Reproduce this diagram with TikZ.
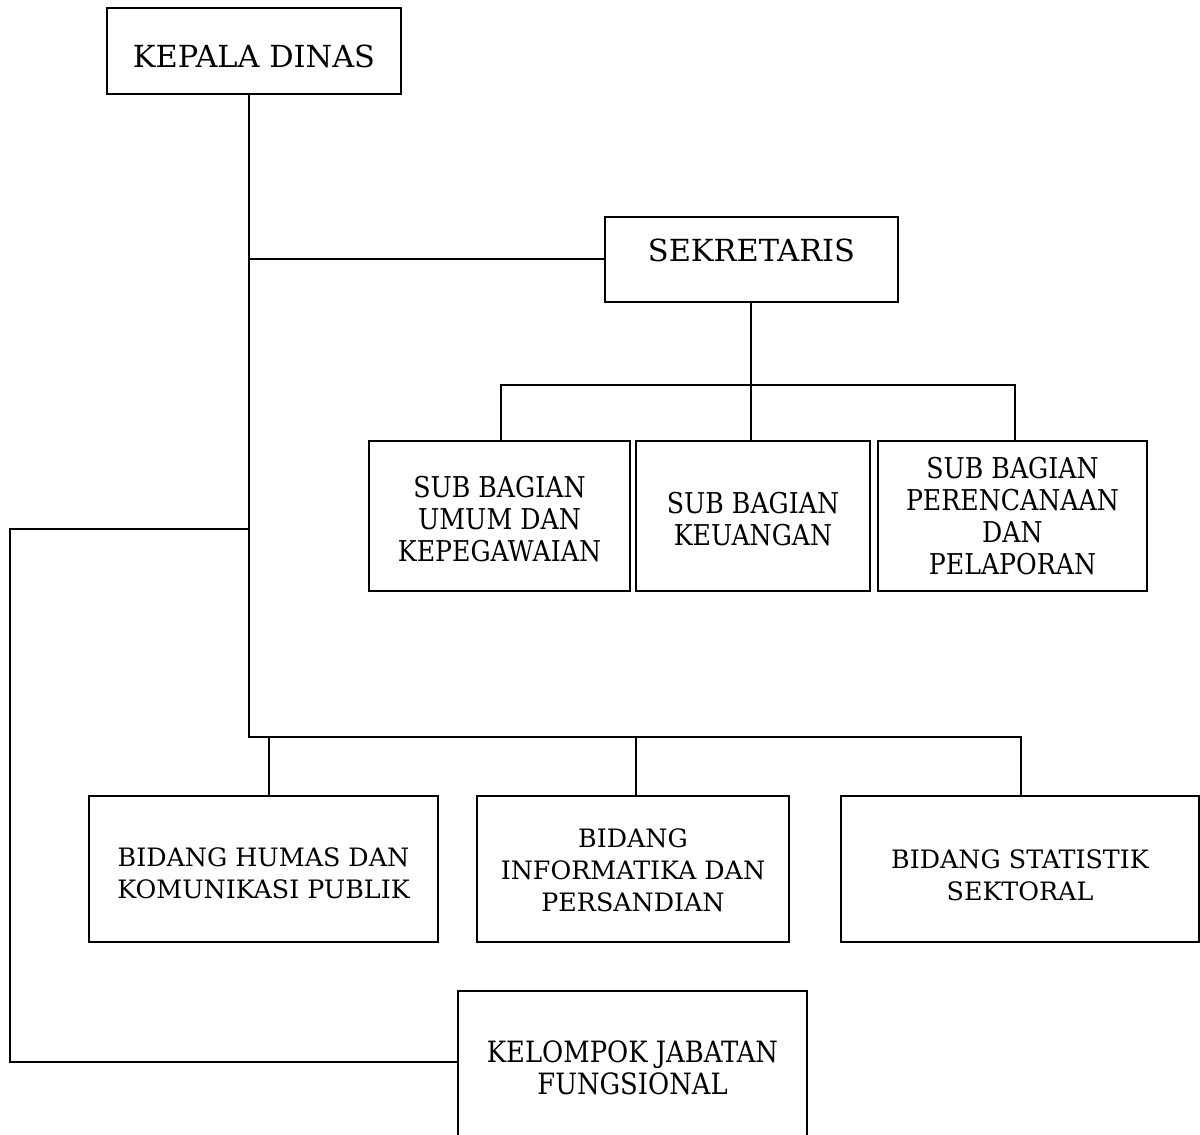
\documentclass[tikz,border=0pt]{standalone}
\usepackage{fontspec}
\setmainfont{DejaVu Serif}
\newfontfamily\condfont[FakeStretch=0.88]{DejaVu Serif}
\begin{document}
\begin{tikzpicture}[x=0.75pt,y=-0.75pt,
  box/.style={draw, line width=1.4pt, outer sep=0pt, inner sep=0pt},
  sz/.style 2 args={minimum width=#1*0.75pt, minimum height=#2*0.75pt},
  tA/.style={align=center, inner sep=0pt, font=\fontsize{22.8}{27}\selectfont},
  tS/.style={align=center, inner sep=0pt, font=\condfont\fontsize{21.5}{24}\selectfont},
  tK/.style={align=center, inner sep=0pt, font=\condfont\fontsize{22}{24}\selectfont},
  tB/.style={align=center, inner sep=0pt, font=\fontsize{19}{24}\selectfont},
  conn/.style={line width=1.4pt}]
\useasboundingbox (0,0) rectangle (1200,1135);
\clip (0,0) rectangle (1200,1135);
\fill[white] (0,0) rectangle (1200,1135);

% boxes
\node[box,sz={294}{86}] (kd) at (254,51) {};
\node[tA] (kdt) at (254,56) {KEPALA DINAS};
\node[box,sz={293}{85}] (sek) at (751.5,259.5) {};
\node[tA] (sekt) at (751.5,250) {SEKRETARIS};

\node[box,sz={261}{150}] (sub1) at (499.5,516) {};
\node[tS] (sub1t) at (499.5,519) {SUB BAGIAN\\UMUM DAN\\KEPEGAWAIAN};
\node[box,sz={234}{150}] (sub2) at (753,516) {};
\node[tS] (sub2t) at (753,519) {SUB BAGIAN\\KEUANGAN};
\node[box,sz={269}{150}] (sub3) at (1012.5,516) {};
\node[tS] (sub3t) at (1012.5,516) {SUB BAGIAN\\PERENCANAAN\\DAN\\PELAPORAN};

\node[box,sz={349}{146}] (bid1) at (263.5,869) {};
\node[tB] (bid1t) at (263.5,873) {BIDANG HUMAS DAN\\KOMUNIKASI PUBLIK};
\node[box,sz={312}{146}] (bid2) at (633,869) {};
\node[tB] (bid2t) at (633,870) {BIDANG\\INFORMATIKA DAN\\PERSANDIAN};
\node[box,sz={358}{146}] (bid3) at (1020,869) {};
\node[tB] (bid3t) at (1020,875.5) {BIDANG STATISTIK\\SEKTORAL};

\node[box,sz={349}{159}] (kel) at (632.5,1070.5) {};
\node[tK] (kelt) at (632.5,1068) {KELOMPOK JABATAN\\FUNGSIONAL};

% coordinates
\coordinate (trunk) at (249,737);
\coordinate (jS) at (249,259);
\coordinate (jL) at (249,529);
\coordinate (lc1) at (10,529);
\coordinate (lc2) at (10,1062);
\coordinate (sbus) at (751,385);
\coordinate (sb1) at (501,385);
\coordinate (sb3) at (1015,385);
\coordinate (bb1) at (269,737);
\coordinate (bb2) at (636,737);
\coordinate (bb3) at (1021,737);

% connectors
\draw[conn] (kd.south -| trunk) -- (trunk) -- (bb3) -- (bb3 |- bid3.north);
\draw[conn] (jS) -- (sek.west |- jS);
\draw[conn] (sek.south -| sbus) -- (sub2.north -| sbus);
\draw[conn] (sb1 |- sub1.north) -- (sb1) -- (sb3) -- (sb3 |- sub3.north);
\draw[conn] (jL) -- (lc1) -- (lc2) -- (lc2 -| kel.west);
\draw[conn] (bb1) -- (bb1 |- bid1.north);
\draw[conn] (bb2) -- (bb2 |- bid2.north);
\end{tikzpicture}
\end{document}
